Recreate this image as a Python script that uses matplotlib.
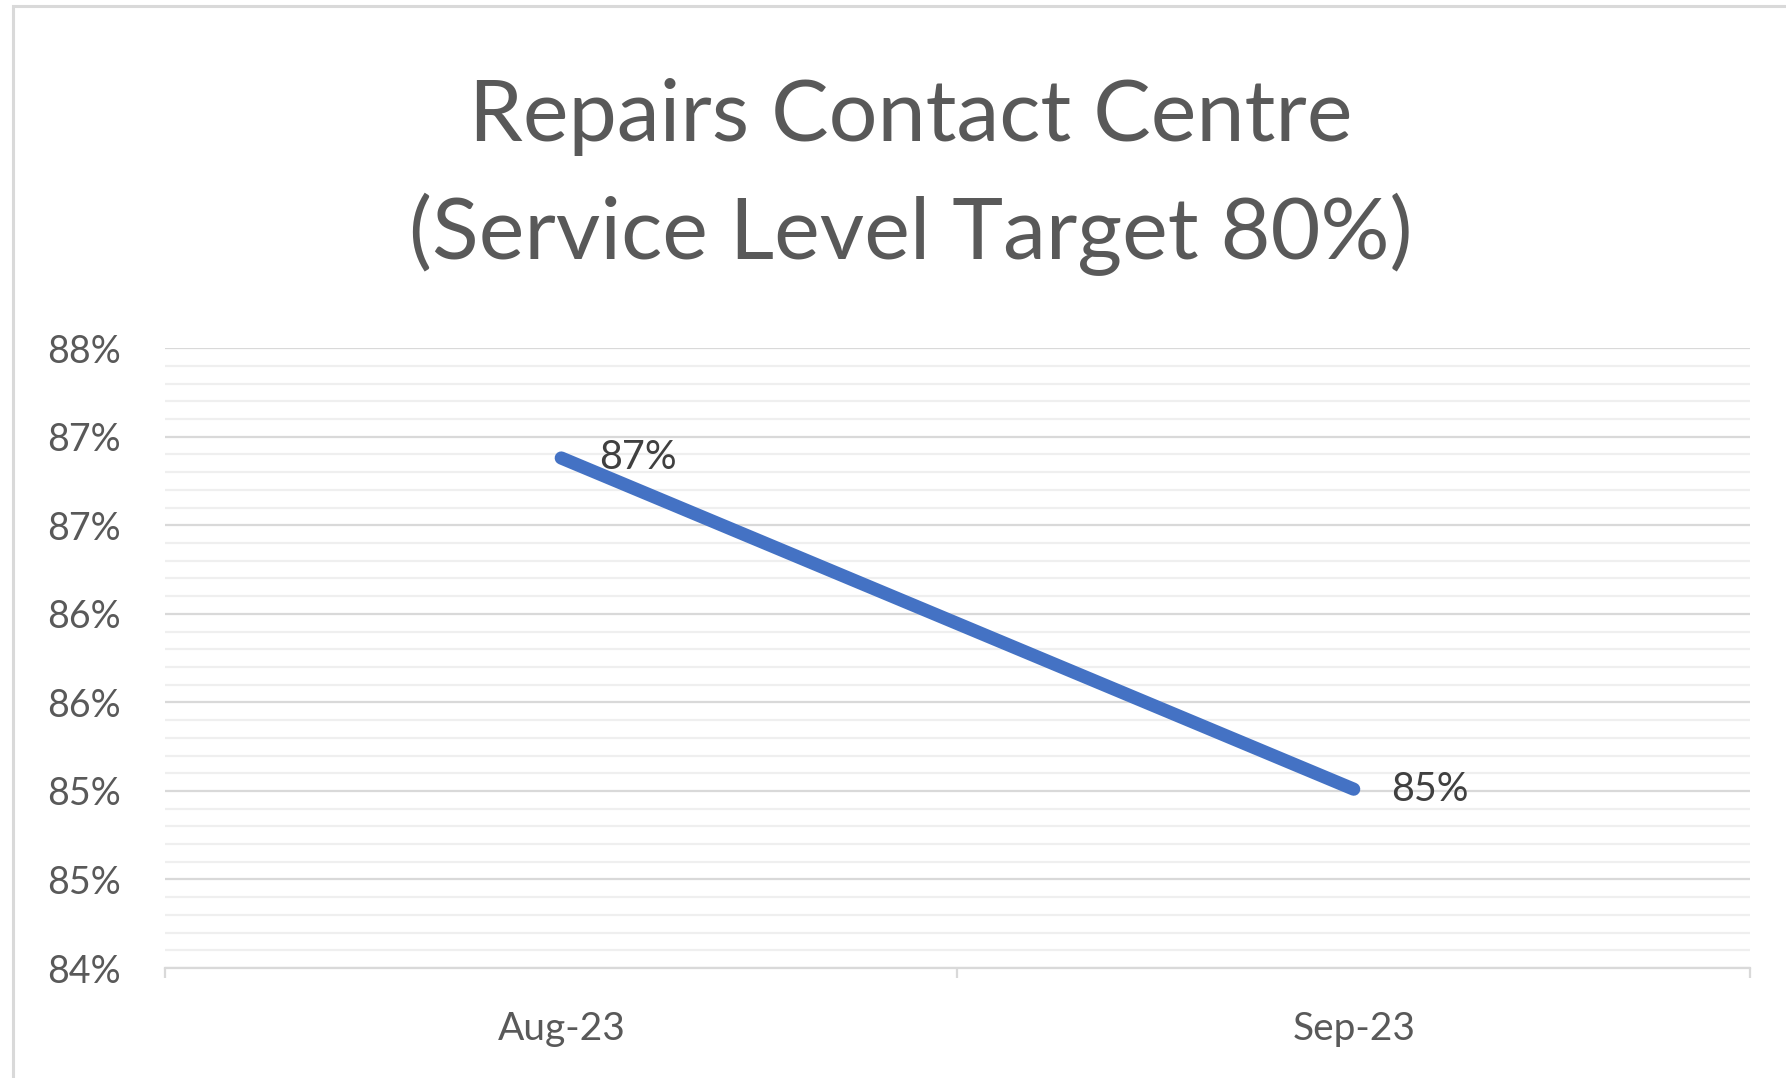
import matplotlib
matplotlib.use("Agg")
import matplotlib.pyplot as plt
from matplotlib.patches import Rectangle

# data
months = ["Aug-23", "Sep-23"]
service_level = [0.8688, 0.8501]
ytick_values = [0.84, 0.845, 0.85, 0.855, 0.86, 0.865, 0.87, 0.875]
ytick_labels = ["84%", "85%", "85%", "86%", "86%", "87%", "87%", "88%"]
title = "Repairs Contact Centre\n(Service Level Target 80%)"

plt.rcParams['font.family'] = ['Lato', 'DejaVu Sans']

fig = plt.figure(figsize=(17.86, 10.78), dpi=100)
ax = fig.add_axes([0.0924, 0.102, 0.8874, 0.575])

x = list(range(len(months)))
ax.plot(x, service_level, color='#4472C4', lw=9.5, solid_capstyle='round', zorder=3)
for xi, v in zip(x, service_level):
    ax.annotate(f"{v:.0%}", (xi, v), xytext=(27, 0), textcoords='offset points',
                ha='left', va='center', fontsize=28.5, color='#404040', zorder=4)

ax.set_xlim(-0.5, len(months) - 0.5)
ax.set_ylim(0.84, 0.875)
ax.set_yticks(ytick_values)
ax.set_yticklabels(ytick_labels)
ax.set_yticks([0.84 + 0.001 * i for i in range(36)], minor=True)
ax.set_xticks(x)
ax.set_xticklabels(months)
ax.set_xticks([i - 0.5 for i in range(len(months) + 1)], minor=True)

ax.grid(axis='y', which='major', color='#d9d9d9', lw=1.6, zorder=1)
ax.grid(axis='y', which='minor', color='#efefef', lw=1.6, zorder=0)
ax.tick_params(axis='y', which='both', length=0, pad=32, labelsize=27, labelcolor='#595959')
ax.tick_params(axis='x', which='major', length=0, pad=31, labelsize=28, labelcolor='#595959')
ax.tick_params(axis='x', which='minor', length=7, width=1.6, color='#d9d9d9')

for side in ['top', 'right', 'left']:
    ax.spines[side].set_visible(False)
ax.spines['bottom'].set_color('#d9d9d9')
ax.spines['bottom'].set_linewidth(1.6)

fig.text(0.51, 0.836, title, ha='center', va='center', fontsize=62,
         color='#595959', linespacing=1.56)

# chart border (runs off the right and bottom of the image)
fig.patches.append(Rectangle((13 / 1786, -0.05), 1.2, 1 - 6 / 1078 + 0.05,
                             transform=fig.transFigure, fill=False,
                             edgecolor='#d9d9d9', lw=2.2))

fig.savefig("out.png", dpi=100)
